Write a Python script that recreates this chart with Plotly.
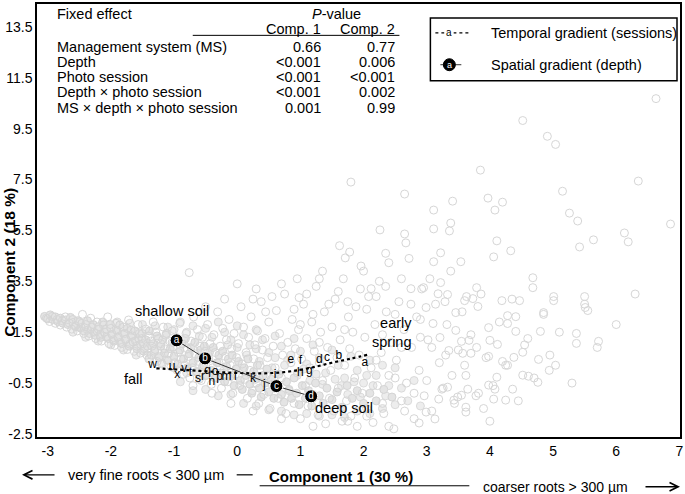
import plotly.graph_objects as go

# ---------------- data ----------------
# densest part of the cloud of individual observations (PCA scores)
core_pts = [
    (-3.05,2.12),(-3.0,2.02),(-2.96,2.18),(-2.92,2.0),(-2.88,2.1),(-2.84,1.92),(-2.8,2.05),(-2.76,1.85),(-2.72,1.98),
    (-2.68,1.8),(-2.64,2.08),(-2.6,1.88),(-2.56,1.72),(-2.52,1.95),(-2.48,1.66),
    (-2.46,1.85),(-2.43,1.55),(-2.4,1.72),(-2.37,1.95),(-2.34,1.45),(-2.31,1.62),(-2.28,1.8),(-2.25,1.38),(-2.22,1.55),
    (-2.19,1.72),(-2.16,1.3),(-2.13,1.9),(-2.1,1.47),(-2.07,1.62),(-2.04,1.25),(-2.01,1.8),
    (-1.98,1.4),(-1.95,1.15),(-1.92,1.6),(-1.89,1.3),(-1.86,1.78),(-1.83,1.05),(-1.8,1.45),(-1.77,1.22),(-1.74,1.65),
    (-1.71,0.95),(-1.68,1.35),(-1.65,1.12),(-1.62,1.55),(-1.59,0.85),(-1.56,1.25),(-1.53,1.02),(-1.5,1.45),
    (-1.48,0.75),(-1.45,1.2),(-1.42,0.95),(-1.39,1.55),(-1.36,0.6),(-1.33,1.05),(-1.3,0.82),(-1.27,1.35),(-1.24,0.5),
    (-1.21,0.95),(-1.18,1.2),(-1.15,0.68),(-1.12,1.45),(-1.09,0.4),(-1.06,0.85),(-1.03,1.1),(-1.0,0.55),
    (-0.97,1.3),(-0.94,0.25),(-0.91,0.8),(-0.88,1.05),(-0.85,0.45),(-0.82,1.25),(-0.79,0.1),(-0.76,0.65),(-0.73,0.9),
    (-0.7,0.3),(-0.67,1.1),(-0.64,-0.05),(-0.61,0.5),(-0.58,0.8),(-0.55,0.15),(-0.52,0.95),(-0.5,-0.2),
    (-0.47,0.45),(-0.44,0.7),(-0.41,0.0),(-0.38,0.9),(-0.35,-0.3),(-0.32,0.3),(-0.29,0.6),(-0.26,-0.1),(-0.23,0.75),
    (-0.2,-0.45),(-0.17,0.15),(-0.14,0.45),(-0.11,-0.25),(-0.08,0.6),(-0.05,-0.6),(-0.02,0.05),
    (0.02,0.35),(0.05,-0.4),(0.08,-0.75),(0.11,0.1),(0.14,-0.2),(0.17,0.45),(0.2,-0.55),(0.23,-0.9),(0.26,-0.05),
    (0.29,-0.35),(0.32,0.2),(0.35,-0.7),(0.38,-1.05),(0.41,-0.2),(0.44,-0.5),(0.47,0.05),
    (0.5,-0.85),(0.54,-0.35),(0.58,-1.1),(0.62,-0.6),(0.66,-0.15),(0.7,-0.95),(0.74,-1.25),(0.78,-0.45),(0.82,-0.75),
    (0.86,-1.1),(0.9,-0.3),(0.94,-0.9),(0.98,-1.35),
    (1.03,-0.6),(1.08,-1.1),(1.13,-0.8),(1.18,-1.4),(1.24,-0.5),(1.3,-1.0),(1.36,-1.3),(1.42,-0.7),(1.5,-1.15),
    (1.58,-0.85),(1.66,-1.45),(1.74,-0.6),(1.82,-1.1),(1.9,-0.8),(2.0,-1.3),(2.1,-0.9),(2.2,-1.2),(2.32,-0.75),
    (2.45,-1.05),
]
# moderately dense part around the core
mid_pts = [
    (-1.0,1.6),(-0.9,1.9),(-0.8,1.5),(-0.7,1.75),(-0.6,1.35),(-0.5,1.65),(-0.4,1.3),(-0.3,1.9),(-0.2,1.5),(-0.1,1.2),
    (0.0,1.75),(0.1,1.4),(0.2,1.0),(0.3,1.6),(0.4,1.2),(0.5,0.7),(0.6,1.35),(0.7,0.95),(0.8,0.4),(0.9,1.25),
    (1.0,0.75),(1.1,0.25),(1.2,1.0),(1.3,0.5),(1.4,-0.1),(1.5,0.8),(1.6,0.2),(1.7,-0.3),(1.8,0.55),(1.9,0.0),
    (2.0,-0.5),(2.1,0.4),(2.2,-0.2),(2.3,0.2),(2.4,-0.6),(2.5,0.1),
    (-0.9,-0.45),(-0.7,-0.8),(-0.5,-0.75),(-0.3,-1.0),(-0.1,-0.95),(0.1,-1.3),(0.3,-1.4),(0.5,-1.55),(0.7,-1.6),
    (0.9,-1.75),(1.1,-1.7),(1.3,-1.8),(1.5,-1.75),(1.7,-1.85),(1.9,-1.6),(2.1,-1.7),(2.3,-1.5),(2.5,-1.35),
    (2.7,-1.2),(2.9,-1.4),(2.6,-0.7),(2.8,-0.4),
    (0.0,0.9),(0.15,0.6),(0.35,0.35),(0.55,0.1),(0.75,0.2),(0.95,-0.2),(1.15,-0.4),(1.35,-0.55),(1.55,-0.35),
    (1.75,-0.95),(1.95,-1.05),(2.15,-0.6),(2.35,-1.0),(0.6,0.5),(0.3,0.85),(-0.15,1.0),(0.85,0.6),(1.05,0.05),
    (1.25,-0.15),(1.65,-0.6),(1.85,-0.45),(2.05,-0.2),
    (-2.6,1.5),(-2.4,1.3),(-2.2,1.15),(-2.0,1.0),(-1.8,0.8),(-1.6,0.6),(-1.4,0.45),(-1.2,0.3),(-1.0,0.1),
    (-0.8,-0.1),(-0.6,-0.35),(-1.9,1.9),(-1.7,1.85),(-1.5,1.8),(-1.3,1.75),(-1.1,1.7),
]
# the rest of the cloud
band_pts = [
    (-3.02,2.05),(-2.97,1.92),(-2.93,2.12),(-2.88,1.85),(-2.85,2.0),(-2.8,1.78),(-2.77,1.95),(-2.72,2.1),(-2.7,1.7),
    (-2.66,1.86),(-2.62,1.62),(-2.6,2.0),(-2.56,1.75),(-2.53,1.55),(-2.5,1.9),(-2.47,1.68),(-2.45,2.2),
    (-2.43,1.45),(-2.4,1.8),(-2.37,1.58),(-2.35,1.35),(-2.32,2.05),(-2.3,1.7),(-2.27,1.5),(-2.24,1.25),(-2.22,1.9),
    (-2.2,1.62),(-2.17,1.38),(-2.15,1.15),(-2.12,1.78),(-2.1,1.5),(-2.07,1.3),(-2.05,2.1),(-2.03,1.05),(-2.0,1.65),
    (-1.98,1.42),(-1.96,1.2),
    (-1.94,0.98),(-1.92,1.85),(-1.9,1.55),(-1.88,1.32),(-1.85,1.1),(-1.83,0.9),(-1.8,1.7),(-1.78,1.45),(-1.76,1.22),
    (-1.74,0.82),(-1.72,1.98),(-1.7,1.03),(-1.68,1.58),(-1.66,1.35),(-1.63,0.75),(-1.61,1.15),(-1.59,0.95),(-1.57,1.8),
    (-1.55,1.45),(-1.53,0.68),(-1.51,1.25),
    (-1.49,1.05),(-1.47,0.85),(-1.45,1.62),(-1.43,0.6),(-1.41,1.35),(-1.39,0.45),(-1.37,1.15),(-1.35,0.95),(-1.33,1.9),
    (-1.31,0.75),(-1.29,1.5),(-1.27,0.35),(-1.25,1.25),(-1.23,0.55),(-1.21,1.05),(-1.19,0.25),(-1.17,1.7),(-1.15,0.85),
    (-1.13,1.38),(-1.11,0.4),(-1.09,0.65),(-1.07,1.15),(-1.05,0.15),(-1.03,1.55),(-1.01,0.92),
    (-0.99,0.3),(-0.97,1.25),(-0.95,0.0),(-0.93,0.7),(-0.91,1.85),(-0.89,0.45),(-0.87,1.05),(-0.85,-0.15),(-0.83,0.2),
    (-0.81,1.45),(-0.79,0.85),(-0.77,0.55),(-0.75,-0.3),(-0.73,1.15),(-0.71,0.1),(-0.69,2.1),(-0.67,0.65),(-0.65,-0.05),
    (-0.63,1.6),(-0.61,0.35),(-0.59,0.95),(-0.57,-0.4),(-0.55,1.3),(-0.53,0.2),(-0.51,0.75),
    (-0.49,-0.2),(-0.47,1.8),(-0.45,0.45),(-0.43,1.05),(-0.41,-0.55),(-0.39,0.1),(-0.37,1.4),(-0.35,0.7),(-0.33,-0.3),
    (-0.31,2.3),(-0.29,0.3),(-0.27,0.95),(-0.25,-0.7),(-0.23,1.65),(-0.21,0.0),(-0.19,0.55),(-0.17,1.2),(-0.15,-0.45),
    (-0.13,2.0),(-0.11,0.2),(-0.09,0.85),(-0.07,-0.9),(-0.05,1.45),(-0.03,-0.15),(-0.01,0.5),
    (0.02,1.05),(0.04,-0.6),(0.06,2.5),(0.08,0.25),(0.1,1.7),(0.12,-0.35),(0.14,0.7),(0.16,-1.1),(0.18,1.3),(0.2,0.0),
    (0.22,2.1),(0.24,-0.8),(0.26,0.45),(0.28,1.0),(0.3,-0.5),(0.32,1.55),(0.34,-1.3),(0.36,0.2),(0.38,2.7),(0.4,0.8),
    (0.42,-0.95),(0.44,1.25),(0.46,-0.2),(0.48,0.5),
    (0.5,1.9),(0.52,-1.5),(0.55,-0.55),(0.57,0.95),(0.6,0.1),(0.62,2.35),(0.65,-1.1),(0.67,1.45),(0.7,-0.3),(0.72,0.6),
    (0.75,3.0),(0.77,-1.7),(0.8,1.1),(0.82,-0.8),(0.85,0.3),(0.87,2.0),(0.9,-1.3),(0.92,0.85),(0.95,-0.1),(0.97,1.6),
    (1.0,-1.9),(1.02,0.45),(1.05,2.6),(1.08,-0.6),(1.1,1.25),(1.12,-1.4),(1.15,0.1),(1.18,1.9),(1.2,-0.95),(1.22,0.75),
    (1.25,3.3),(1.28,-1.75),(1.3,0.3),(1.32,1.5),(1.35,-0.4),(1.38,2.3),(1.4,-2.1),(1.43,0.9),(1.46,-1.1),(1.48,0.0),
    (1.5,1.7),(1.53,-1.6),(1.55,2.8),(1.58,0.5),(1.6,-0.7),(1.63,1.2),(1.66,-2.0),(1.68,3.6),(1.7,0.2),(1.73,-1.2),
    (1.76,2.1),(1.78,0.85),(1.8,-1.8),(1.83,1.5),(1.86,-0.3),(1.88,2.5),(1.9,-2.2),(1.93,0.6),(1.96,4.1),(1.98,-0.9),
    (2.02,1.3),(2.05,-1.5),(2.08,2.9),(2.12,0.1),(2.15,-2.05),(2.18,1.8),(2.22,-0.6),(2.25,3.5),(2.28,0.7),(2.32,-1.7),
    (2.36,2.3),(2.4,-0.2),(2.44,1.1),(2.48,-2.3),
    (2.52,0.4),(2.56,2.7),(2.6,-1.2),(2.64,1.6),(2.68,-0.5),(2.72,4.4),(2.76,0.9),(2.8,-1.9),(2.84,2.1),(2.88,0.0),
    (2.92,3.2),(2.96,-1.0),
    (3.02,1.2),(3.08,-1.6),(3.14,2.6),(3.2,0.3),(3.26,-0.7),(3.32,1.8),(3.38,3.9),(3.44,-1.3),(3.5,0.8),(3.56,2.3),
    (3.62,-0.2),(3.7,1.4),(3.78,-1.0),(3.86,3.0),(3.94,0.5),
    (4.05,-0.6),(4.15,1.9),(4.25,0.2),(4.35,2.8),(4.45,-1.2),(4.55,1.0),(4.7,-0.3),(4.85,2.2),(4.95,0.6),
    (5.1,1.5),(5.3,-0.5),(5.5,2.6),(5.7,0.9),(6.0,1.8),(6.3,3.0),
    (0.55,2.9),(0.7,3.4),(0.9,2.4),(1.1,3.0),(1.2,2.2),(1.45,2.6),(1.6,3.1),(1.75,2.7),(1.95,3.2),(2.05,2.4),
    (2.2,2.9),(2.35,3.3),(2.5,2.2),(2.6,3.6),(2.75,2.6),(2.9,2.0),(3.05,3.6),(1.35,3.9),(0.95,3.6),(2.0,3.9),
    (0.3,3.2),(-0.2,2.8),(-0.5,2.5),(0.45,2.3),(1.0,1.8),(1.3,1.1),(1.7,1.6),(2.3,1.4),(2.6,0.9),(2.9,1.3),
    (2.2,0.4),(2.5,-0.3),(2.8,-0.9),(2.3,-1.3),(2.65,-1.6),(3.0,-0.4),(3.3,0.6),(3.6,0.2),(3.4,-0.2),(2.05,-1.8),
    (1.75,-2.0),(1.2,-2.2),(0.7,-1.9),(0.25,-1.6),(-0.1,-1.3),(-0.4,-0.9),(-0.7,-0.6),(3.9,-1.5),(4.0,-2.0),(2.4,-2.2),
    (1.62,4.9),(1.78,4.65),(2.35,4.6),(0.0,3.4),(0.25,2.8),
]
sparse_pts = [
    (3.85,7.87),(6.35,7.44),(2.65,6.93),(3.41,6.65),(3.97,6.77),(4.20,6.61),(4.08,6.30),(3.11,6.30),(5.15,7.04),
    (5.26,6.18),(5.39,5.87),(3.38,5.79),(3.11,5.56),(3.36,5.48),(2.65,5.36),(2.67,5.01),(6.86,5.75),(6.13,5.40),
    (6.19,5.05),(5.64,5.13),(5.42,4.85),(4.11,5.09),(4.33,4.70),(4.06,4.46),(3.22,4.62),(3.11,4.27),(3.54,4.27),
    (4.68,3.64),(4.68,3.25),(2.75,3.21),(2.95,3.25),(3.22,3.45),(3.18,3.01),(3.33,2.98),(3.79,3.25),(3.63,2.90),
    (3.60,2.74),(3.73,2.82),(3.29,2.70),(3.81,2.51),(5.01,2.90),(5.01,2.74),(5.50,2.90),(5.51,2.47),(5.55,2.35),
    (4.19,2.74),(4.47,2.74),(4.85,2.27),(2.99,2.47),(3.46,2.27),(4.28,2.15),(4.41,2.11),(4.28,1.84),(3.10,1.84),
    (3.98,1.68),(3.46,1.57),(4.41,1.53),(4.80,1.53),(5.37,1.45),(5.37,1.06),(5.72,1.14),(4.60,1.25),(4.00,1.18),
    (3.55,1.14),(3.67,1.18),(4.12,1.02),(4.52,0.71),(3.79,0.90),(3.21,1.29),(3.08,0.90),(3.35,0.78),(3.57,0.67),
    (3.70,0.67),(3.98,0.55),(4.20,0.35),(4.38,0.51),(4.28,0.20),(4.77,0.43),(4.94,0.0),(5.04,0.20),(4.52,-0.19),
    (4.61,-0.23),(4.76,-0.47),(4.36,-0.74),(4.08,-0.74),(3.98,-0.58),(4.11,-0.27),(4.25,-1.17),(4.06,-1.13),
    (3.82,-0.90),(3.65,-0.74),(3.62,-1.45),(3.62,-1.64),(3.49,-1.05),(3.55,-0.98),(3.43,-1.17),(3.19,-1.13),
    (3.33,-0.66),(3.24,-0.74),(3.13,-1.91),(2.99,-1.64),(2.88,-2.07),
    (6.63,10.68),(4.52,9.82),(4.91,9.20),(5.04,8.88),(1.80,7.40),(2.26,5.52),(2.40,4.23),(1.71,4.42),(1.30,3.60),
    (2.12,3.21),(0.98,2.86),(-0.76,3.84),
]
core_x = [p[0] for p in core_pts]
core_y = [p[1] for p in core_pts]
mid_x = [p[0] for p in mid_pts]
mid_y = [p[1] for p in mid_pts]
cloud_x = [p[0] for p in band_pts + sparse_pts]
cloud_y = [p[1] for p in band_pts + sparse_pts]

# temporal gradient: photo-session means (a = early spring ... x = fall)
session_labels = list("abcdefghijklmnopqrstuvwx")
session_x = [2.02, 1.61, 1.42, 1.30, 0.85, 1.00, 1.14, 1.00, 0.60, 0.43, 0.25, -0.03,
             -0.17, -0.40, -0.35, -0.28, -0.47, -0.54, -0.62, -0.74, -1.03, -0.84, -1.34, -0.95]
session_y = [0.28, 0.55, 0.47, 0.39, 0.39, 0.35, -0.04, -0.11, -0.19, -0.58, -0.35, -0.27,
             -0.27, -0.47, -0.08, -0.27, -0.04, -0.27, -0.35, -0.11, 0.12, 0.04, 0.20, -0.19]
# smoothed temporal trend (dotted)
curve_x = [-1.28, -1.0, -0.6, -0.3, 0.0, 0.3, 0.6, 0.9, 1.2, 1.5, 1.8, 2.09]
curve_y = [0.08, 0.04, -0.02, -0.07, -0.10, -0.12, -0.10, -0.02, 0.12, 0.30, 0.46, 0.63]

# spatial gradient: depth means (a = shallow ... d = deep)
depth_labels = ["a", "b", "c", "d"]
depth_x = [-0.96, -0.51, 0.62, 1.17]
depth_y = [1.18, 0.47, -0.62, -1.02]

# table of fixed effects
effects = ["Management system (MS)", "Depth", "Photo session",
           "Depth \u00d7 photo session", "MS \u00d7 depth \u00d7 photo session"]
p_comp1 = ["0.66", "<0.001", "<0.001", "<0.001", "0.001"]
p_comp2 = ["0.77", "0.006", "<0.001", "0.002", "0.99"]

x_ticks = [-3, -2, -1, 0, 1, 2, 3, 4, 5, 6, 7]
y_ticks = [-2.5, -0.5, 1.5, 3.5, 5.5, 7.5, 9.5, 11.5, 13.5]

# ---------------- layout helpers ----------------
W, H = 685, 494
ML, MR, MT, MB = 37, 4, 2, 57
PW, PH = W - ML - MR, H - MT - MB
FONT = "Arial, Liberation Sans, sans-serif"


def px(x):
    return (x - ML) / PW


def py(y):
    return (H - MB - y) / PH


fig = go.Figure()

fig.add_trace(go.Scatter(
    x=mid_x, y=mid_y, mode="markers",
    marker=dict(symbol="circle", size=8, color="#ededed", line=dict(width=1, color="#dadada")),
    hoverinfo="skip", showlegend=False))

fig.add_trace(go.Scatter(
    x=core_x, y=core_y, mode="markers",
    marker=dict(symbol="circle", size=8, color="#e4e4e4", line=dict(width=1, color="#d4d4d4")),
    hoverinfo="skip", showlegend=False))

fig.add_trace(go.Scatter(
    x=cloud_x, y=cloud_y, mode="markers",
    marker=dict(symbol="circle-open", size=8, color="#d6d6d6", line=dict(width=1)),
    hoverinfo="skip", showlegend=False))

fig.add_trace(go.Scatter(
    x=curve_x, y=curve_y, mode="lines", line=dict(color="black", width=2.2, dash="dot", shape="spline"),
    hoverinfo="skip", showlegend=False))

fig.add_trace(go.Scatter(
    x=session_x, y=session_y, mode="text", text=session_labels,
    textfont=dict(family=FONT, size=12, color="black"), hoverinfo="skip", showlegend=False))

fig.add_trace(go.Scatter(
    x=depth_x, y=depth_y, mode="lines+markers+text", text=depth_labels,
    textposition="middle center",
    textfont=dict(family=FONT, size=10, color="white"),
    line=dict(color="#333", width=1),
    marker=dict(size=13, color="black", line=dict(color="white", width=1)),
    hoverinfo="skip", showlegend=False))

ann = []
shapes = []


def txt(x, y, s, size=14.5, anchor="left", bold=False, **kw):
    if bold:
        s = "<b>" + s + "</b>"
    d = dict(x=px(x), y=py(y), xref="paper", yref="paper", text=s, showarrow=False,
             xanchor=anchor, yanchor="middle", font=dict(family=FONT, size=size, color="black"))
    d.update(kw)
    ann.append(d)


# table
txt(55, 12, "Fixed effect")
txt(337, 12, "<i>P</i>-value", anchor="center")
txt(323, 27, "Comp. 1", anchor="right")
txt(398, 27, "Comp. 2", anchor="right")
shapes.append(dict(type="line", xref="paper", yref="paper", x0=px(193), x1=px(400), y0=py(33.5), y1=py(33.5),
                   line=dict(color="black", width=1)))
row_y = [45, 60, 75, 90, 106]
for lab, a, b, yy in zip(effects, p_comp1, p_comp2, row_y):
    txt(55, yy, lab)
    txt(323, yy, a.replace("<", "&lt;"), anchor="right")
    txt(398, yy, b.replace("<", "&lt;"), anchor="right")

# legend box
LX0, LX1, LY0, LY1 = 431, 678, 16, 79
shapes.append(dict(type="rect", xref="paper", yref="paper", x0=px(LX0), x1=px(LX1), y0=py(LY1), y1=py(LY0),
                   line=dict(color="black", width=1.5), fillcolor="white", layer="above"))
shapes.append(dict(type="line", xref="paper", yref="paper", x0=px(436), x1=px(472), y0=py(31), y1=py(31),
                   line=dict(color="black", width=1.2, dash="dot"), layer="above"))
txt(450, 31, "a", size=10, anchor="center", bgcolor="white")
txt(490, 31, "Temporal gradient (sessions)")
shapes.append(dict(type="line", xref="paper", yref="paper", x0=px(441), x1=px(462), y0=py(63), y1=py(63),
                   line=dict(color="#333", width=1), layer="above"))
shapes.append(dict(type="circle", xref="paper", yref="paper", x0=px(444), x1=px(456), y0=py(69), y1=py(57),
                   line=dict(color="black", width=1), fillcolor="black", layer="above"))
ann.append(dict(x=px(450), y=py(63), xref="paper", yref="paper", text="a", showarrow=False,
                font=dict(family=FONT, size=9, color="white"), xanchor="center", yanchor="middle"))
txt(490, 63, "Spatial gradient (depth)")

# in-plot labels
for s, x, y, anchor in [("shallow soil", -1.04, 2.35, "center"), ("early<br>spring", 2.8, 1.47, "right"),
                        ("fall", -1.64, -0.33, "center"), ("deep soil", 1.69, -1.48, "center")]:
    ann.append(dict(x=x, y=y, xref="x", yref="y", text=s, showarrow=False, xanchor=anchor, yanchor="middle",
                    align="right" if anchor == "right" else "center",
                    font=dict(family=FONT, size=14.5, color="black")))

# y title
ann.append(dict(x=px(10), y=py(262), xref="paper", yref="paper", text="<b>Component 2 (18 %)</b>",
                showarrow=False, textangle=-90, xanchor="center", yanchor="middle",
                font=dict(family=FONT, size=15.5, color="black")))

# bottom axis description
txt(341, 477, "Component 1 (30 %)", size=15, anchor="center", bold=True)
shapes.append(dict(type="line", xref="paper", yref="paper", x0=px(260), x1=px(470), y0=py(486), y1=py(486),
                   line=dict(color="black", width=1)))
txt(66, 475, "very fine roots &lt; 300 \u00b5m")
shapes.append(dict(type="line", xref="paper", yref="paper", x0=px(237), x1=px(253), y0=py(475), y1=py(475),
                   line=dict(color="black", width=1.2)))
txt(482, 487, "coarser roots &gt; 300 \u00b5m", size=14)
ann.append(dict(x=px(22), y=py(475), xref="paper", yref="paper", ax=34, ay=0, axref="pixel", ayref="pixel",
                text="", showarrow=True, arrowhead=5, arrowsize=1.3, arrowwidth=1.3, arrowcolor="black"))
ann.append(dict(x=px(681), y=py(487), xref="paper", yref="paper", ax=-36, ay=0, axref="pixel", ayref="pixel",
                text="", showarrow=True, arrowhead=5, arrowsize=1.3, arrowwidth=1.3, arrowcolor="black"))

fig.update_layout(
    width=W, height=H, margin=dict(l=ML, r=MR, t=MT, b=MB),
    paper_bgcolor="white", plot_bgcolor="white",
    font=dict(family=FONT, size=14, color="black"),
    annotations=ann, shapes=shapes, showlegend=False, hovermode=False,
)
fig.update_xaxes(range=[-3.17, 7.01], tickvals=x_ticks, ticktext=[str(v) for v in x_ticks],
                 showgrid=False, zeroline=False, showline=True, mirror=True, linecolor="black", linewidth=1.5,
                 ticks="", ticklabelstandoff=0, tickfont=dict(size=14), ticklabeloverflow="allow")
fig.update_yaxes(range=[-2.62, 14.4], tickvals=y_ticks, ticktext=[f"{v:.1f}" for v in y_ticks],
                 showgrid=False, zeroline=False, showline=True, mirror=True, linecolor="black", linewidth=1.5,
                 ticks="", ticklabelstandoff=0, tickfont=dict(size=14), ticklabeloverflow="allow")

fig.write_html("out.html", config={"displayModeBar": False},
               post_script="document.body.style.margin='0px';document.body.style.overflow='hidden';")
